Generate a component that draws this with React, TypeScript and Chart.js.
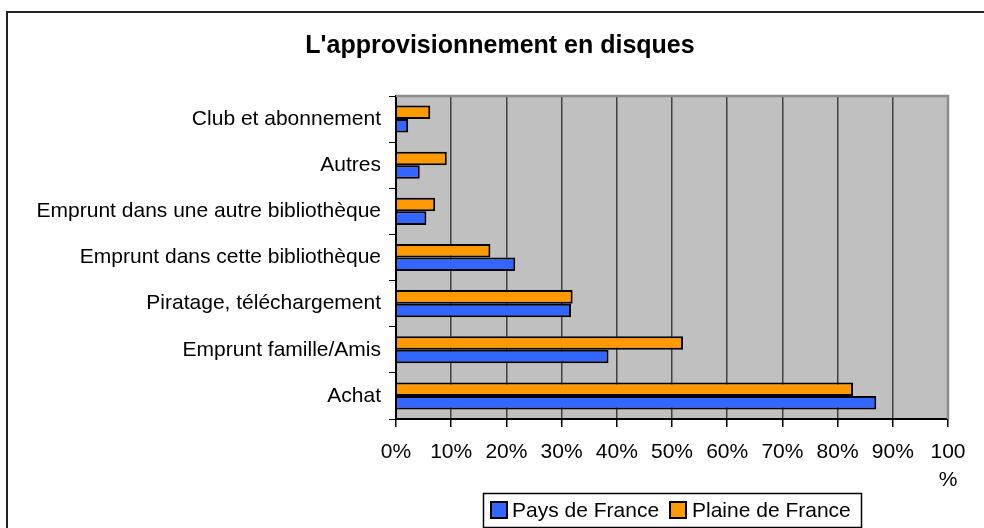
import React, { useEffect, useRef } from "react";
import { Chart, registerables } from "chart.js";

Chart.register(...registerables);

const categories = [
  "Club et abonnement",
  "Autres",
  "Emprunt dans une autre bibliothèque",
  "Emprunt dans cette bibliothèque",
  "Piratage, téléchargement",
  "Emprunt famille/Amis",
  "Achat",
];
const paysDeFrance = [2.2, 4.3, 5.5, 21.6, 31.7, 38.5, 87.0];
const plaineDeFrance = [6.2, 9.2, 7.1, 17.1, 32.0, 52.0, 82.8];
const xTicks = [0, 10, 20, 30, 40, 50, 60, 70, 80, 90, 100];
const seriesNames = ["Pays de France", "Plaine de France"];
const seriesColors = ["#3366FF", "#FF9900"];
const titleText = "L'approvisionnement en disques";

const FONT = "'Liberation Sans', Arial, sans-serif";

const decorPlugin = {
  id: "decor",
  beforeDraw(chart: any) {
    const { ctx, chartArea } = chart;
    ctx.save();
    ctx.fillStyle = "#ffffff";
    ctx.fillRect(0, 0, chart.width, chart.height);
    ctx.fillStyle = "#C0C0C0";
    ctx.fillRect(chartArea.left, chartArea.top, chartArea.right - chartArea.left, chartArea.bottom - chartArea.top);
    ctx.restore();
  },
  beforeDatasetsDraw(chart: any) {
    const { ctx, chartArea } = chart;
    ctx.save();
    ctx.strokeStyle = "#8c8c8c";
    ctx.lineWidth = 2.5;
    ctx.beginPath();
    ctx.moveTo(chartArea.left, chartArea.top);
    ctx.lineTo(chartArea.right, chartArea.top);
    ctx.lineTo(chartArea.right, chartArea.bottom);
    ctx.stroke();
    ctx.restore();
  },
  afterDraw(chart: any) {
    const { ctx } = chart;
    ctx.save();
    // outer frame
    ctx.strokeStyle = "#222222";
    ctx.lineWidth = 2;
    ctx.strokeRect(7, 12, 1000, 540);
    // title
    ctx.fillStyle = "#000000";
    ctx.font = `bold 25px ${FONT}`;
    ctx.textAlign = "center";
    ctx.textBaseline = "middle";
    ctx.fillText(titleText, 500, 46);
    // legend
    ctx.lineWidth = 1.5;
    ctx.strokeStyle = "#000000";
    ctx.strokeRect(483.5, 493.5, 378, 34);
    ctx.font = `21px ${FONT}`;
    ctx.textAlign = "left";
    const items = [
      { x: 491, tx: 512 },
      { x: 670, tx: 692 },
    ];
    items.forEach((it, i) => {
      ctx.fillStyle = seriesColors[i];
      ctx.fillRect(it.x, 502, 16, 16);
      ctx.lineWidth = 2;
      ctx.strokeStyle = "#000000";
      ctx.strokeRect(it.x, 502, 16, 16);
      ctx.fillStyle = "#000000";
      ctx.fillText(seriesNames[i], it.tx, 511);
    });
    ctx.restore();
  },
};

export default function App() {
  const canvasRef = useRef<HTMLCanvasElement | null>(null);

  useEffect(() => {
    if (!canvasRef.current) return;
    const chart = new Chart(canvasRef.current, {
      type: "bar",
      data: {
        labels: categories,
        datasets: [
          {
            label: seriesNames[1],
            data: plaineDeFrance,
            backgroundColor: seriesColors[1],
            borderColor: "#000000",
            borderWidth: 2,
            categoryPercentage: 0.587,
            barPercentage: 1,
          },
          {
            label: seriesNames[0],
            data: paysDeFrance,
            backgroundColor: seriesColors[0],
            borderColor: "#000000",
            borderWidth: 2,
            categoryPercentage: 0.587,
            barPercentage: 1,
          },
        ],
      },
      options: {
        indexAxis: "y",
        responsive: false,
        animation: false,
        devicePixelRatio: 1,
        layout: { padding: { left: 0, right: 36, top: 96, bottom: 0 } },
        plugins: {
          legend: { display: false },
          title: { display: false },
          tooltip: { enabled: false },
        },
        scales: {
          x: {
            type: "linear",
            min: 0,
            max: 100,
            afterBuildTicks(scale: any) {
              scale.ticks = xTicks.map((v) => ({ value: v }));
            },
            afterFit(scale: any) {
              scale.height = 109;
            },
            ticks: {
              stepSize: 10,
              padding: 11,
              color: "#000000",
              font: { family: FONT, size: 21, lineHeight: 1.35 },
              maxRotation: 0,
              autoSkip: false,
              callback: (v: any) => (Number(v) === 100 ? ["100", "%"] : `${v}%`),
            },
            grid: {
              color: "#404040",
              lineWidth: 1.5,
              tickColor: "#000000",
              tickLength: 8,
              drawTicks: true,
            },
            border: { color: "#000000", width: 2 },
          },
          y: {
            type: "category",
            afterFit(scale: any) {
              scale.width = 396;
            },
            ticks: {
              padding: 8,
              color: "#000000",
              font: { family: FONT, size: 21 },
              autoSkip: false,
            },
            grid: {
              drawOnChartArea: false,
              drawTicks: true,
              tickLength: 7,
              tickColor: "#000000",
              offset: true,
            },
            border: { color: "#000000", width: 2 },
          },
        },
      },
      plugins: [decorPlugin],
    });
    return () => chart.destroy();
  }, []);

  return (
    <div style={{ position: "fixed", left: 0, top: 0, width: 984, height: 528 }}>
      <canvas ref={canvasRef} width={984} height={528} style={{ width: 984, height: 528, display: "block" }} />
    </div>
  );
}
